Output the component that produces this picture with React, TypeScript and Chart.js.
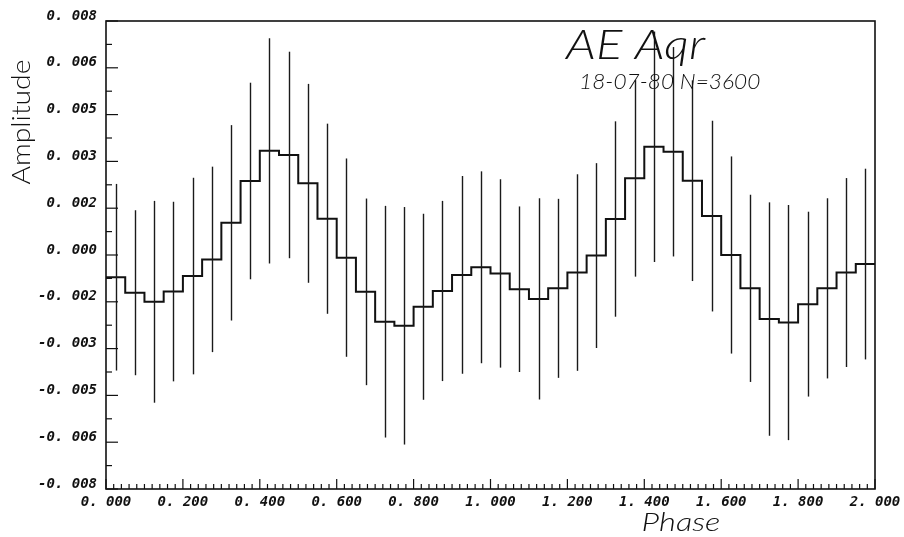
import React, { useEffect, useRef } from "react";
import { Chart, registerables } from "chart.js";

Chart.register(...registerables);

// Bin centres (phase) of the folded light curve
const phaseCenters = [
  0.025, 0.075, 0.125, 0.175, 0.225, 0.275, 0.325, 0.375, 0.425, 0.475,
  0.525, 0.575, 0.625, 0.675, 0.725, 0.775, 0.825, 0.875, 0.925, 0.975,
  1.025, 1.075, 1.125, 1.175, 1.225, 1.275, 1.325, 1.375, 1.425, 1.475,
  1.525, 1.575, 1.625, 1.675, 1.725, 1.775, 1.825, 1.875, 1.925, 1.975,
];
const binWidth = 0.05;

const amplitude = [
  -0.00076, -0.00129, -0.0016, -0.00125, -0.00072, -0.00015, 0.0011, 0.00253, 0.00356, 0.00342,
  0.00245, 0.00124, -0.00009, -0.00126, -0.00228, -0.00242, -0.00177, -0.00123, -0.00068, -0.00042,
  -0.00063, -0.00117, -0.0015, -0.00114, -0.0006, -0.00002, 0.00123, 0.00262, 0.0037, 0.00353,
  0.00254, 0.00133, 0.0, -0.00114, -0.00219, -0.00231, -0.00168, -0.00114, -0.0006, -0.00031,
];

const amplitudeError = [
  0.00319, 0.00282, 0.00345, 0.00307, 0.00336, 0.00317, 0.00334, 0.00336, 0.00385, 0.00353,
  0.0034, 0.00325, 0.00339, 0.00319, 0.00396, 0.00406, 0.00318, 0.00308, 0.00338, 0.00328,
  0.00322, 0.00283, 0.00344, 0.00306, 0.00336, 0.00316, 0.00334, 0.00336, 0.00394, 0.00358,
  0.00343, 0.00326, 0.00337, 0.0032, 0.00399, 0.00402, 0.00316, 0.00308, 0.00323, 0.00326,
];

const xTickValues = [0, 0.2, 0.4, 0.6, 0.8, 1.0, 1.2, 1.4, 1.6, 1.8, 2.0];
const yTickValues = [
  -0.008, -0.0064, -0.0048, -0.0032, -0.0016, 0, 0.0016, 0.0032, 0.0048, 0.0064, 0.008,
];

const titleText = "AE Aqr";
const subtitleText = "18-07-80 N=3600";
const xTitle = "Phase";
const yTitle = "Amplitude";

const fmt = (v: number) => {
  const s = Math.abs(v) < 1e-9 ? "0.000" : v.toFixed(3);
  return s.replace(".", ". ");
};

const tickFont = { family: "'DejaVu Sans Mono', monospace", size: 14, style: "italic" as const, weight: "bold" as const };

function drawScaledText(ctx: any, text: string, x: number, y: number, font: string, sx: number, align: string, rotate = 0) {
  ctx.save();
  ctx.translate(x, y);
  if (rotate) ctx.rotate(rotate);
  ctx.scale(sx, 1);
  ctx.font = font;
  ctx.textAlign = align;
  ctx.textBaseline = "alphabetic";
  ctx.fillText(text, 0, 0);
  ctx.restore();
}

const decorPlugin = {
  id: "decor",
  afterDatasetsDraw(chart: any) {
    const { ctx, chartArea, scales } = chart;
    const xs = scales.x;
    const ys = scales.y;
    ctx.save();
    // error bars
    ctx.strokeStyle = "#1a1a1a";
    ctx.lineWidth = 1.4;
    for (let i = 0; i < phaseCenters.length; i++) {
      const px = Math.round(xs.getPixelForValue(phaseCenters[i])) + 0.5;
      const y1 = ys.getPixelForValue(amplitude[i] + amplitudeError[i]);
      const y2 = ys.getPixelForValue(amplitude[i] - amplitudeError[i]);
      ctx.beginPath();
      ctx.moveTo(px, y1);
      ctx.lineTo(px, y2);
      ctx.stroke();
    }
    // frame
    ctx.strokeStyle = "#111";
    ctx.lineWidth = 1.6;
    ctx.strokeRect(chartArea.left, chartArea.top, chartArea.right - chartArea.left, chartArea.bottom - chartArea.top);
    // x tick marks (inward from bottom axis)
    ctx.lineWidth = 1.2;
    for (let k = 0; k <= 100; k++) {
      const v = k * 0.02;
      const px = xs.getPixelForValue(v);
      const len = k % 10 === 0 ? 10 : 5;
      ctx.beginPath();
      ctx.moveTo(px, chartArea.bottom);
      ctx.lineTo(px, chartArea.bottom - len);
      ctx.stroke();
    }
    // y tick marks (inward from left axis)
    for (let k = 0; k <= 20; k++) {
      const v = -0.008 + k * 0.0008;
      const py = ys.getPixelForValue(v);
      const len = k % 2 === 0 ? 12 : 6;
      ctx.beginPath();
      ctx.moveTo(chartArea.left, py);
      ctx.lineTo(chartArea.left + len, py);
      ctx.stroke();
    }
    ctx.restore();
  },
  afterDraw(chart: any) {
    const { ctx } = chart;
    ctx.save();
    ctx.fillStyle = "#111";
    drawScaledText(ctx, titleText, 566, 59, "italic 300 41px Lato, 'DejaVu Sans', sans-serif", 1.2, "left");
    drawScaledText(ctx, subtitleText, 579, 89, "italic 300 21px Lato, 'DejaVu Sans', sans-serif", 1.08, "left");
    drawScaledText(ctx, xTitle, 681, 531, "italic 300 26px Lato, 'DejaVu Sans', sans-serif", 1.26, "center");
    drawScaledText(ctx, yTitle, 30, 122, "300 25px Lato, 'DejaVu Sans', sans-serif", 1.13, "center", -Math.PI / 2);
    ctx.restore();
  },
};

export default function App() {
  const ref = useRef<HTMLCanvasElement | null>(null);
  useEffect(() => {
    document.body.style.margin = "0";
    const canvas = ref.current;
    if (!canvas) return;
    const stepData: { x: number; y: number }[] = [];
    for (let i = 0; i < phaseCenters.length; i++) {
      stepData.push({ x: phaseCenters[i] - binWidth / 2, y: amplitude[i] });
      stepData.push({ x: phaseCenters[i] + binWidth / 2, y: amplitude[i] });
    }
    const chart = new Chart(canvas, {
      type: "line",
      data: {
        datasets: [
          {
            data: stepData,
            borderColor: "#111",
            borderWidth: 2,
            pointRadius: 0,
            tension: 0,
            fill: false,
          },
        ],
      },
      options: {
        animation: false,
        responsive: false,
        devicePixelRatio: 1,
        layout: { padding: { top: 21, right: 29, bottom: 0, left: 0 } },
        plugins: { legend: { display: false }, tooltip: { enabled: false } },
        scales: {
          x: {
            type: "linear",
            min: 0,
            max: 2,
            afterBuildTicks: (s: any) => {
              s.ticks = xTickValues.map((value) => ({ value }));
            },
            afterFit: (s: any) => {
              s.height = 48;
            },
            grid: { display: false },
            border: { display: false },
            ticks: {
              callback: (v: any) => fmt(Number(v)),
              font: tickFont,
              color: "#111",
              maxRotation: 0,
              autoSkip: false,
              padding: -3,
            },
          },
          y: {
            type: "linear",
            min: -0.008,
            max: 0.008,
            afterBuildTicks: (s: any) => {
              s.ticks = yTickValues.map((value) => ({ value }));
            },
            afterFit: (s: any) => {
              s.width = 106;
            },
            grid: { display: false },
            border: { display: false },
            ticks: {
              callback: (v: any) => fmt(Number(v)),
              font: tickFont,
              color: "#111",
              autoSkip: false,
              padding: 1,
              labelOffset: -5,
            },
          },
        },
      },
      plugins: [decorPlugin],
    });
    return () => chart.destroy();
  }, []);
  return (
    <div style={{ width: 904, height: 537, background: "#fff" }}>
      <canvas ref={ref} width={904} height={537} style={{ display: "block" }} />
    </div>
  );
}
